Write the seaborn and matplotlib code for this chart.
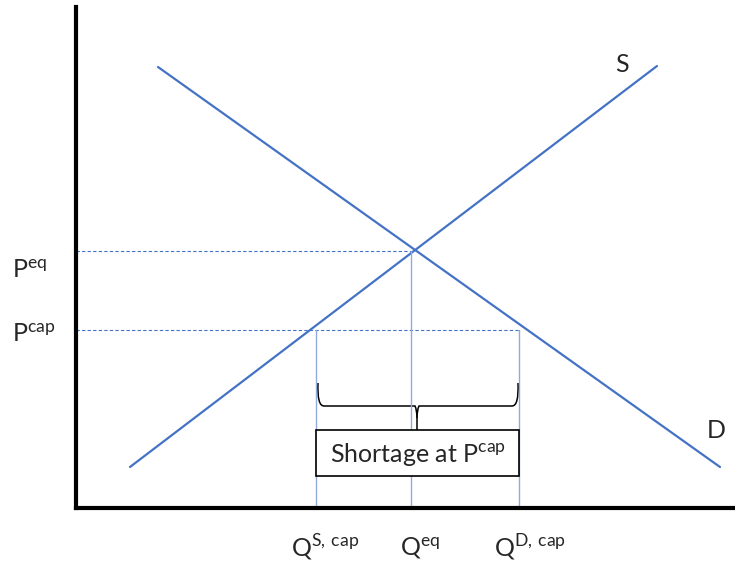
import numpy as np
import pandas as pd
import matplotlib
matplotlib.use('Agg')
import matplotlib.pyplot as plt
import seaborn as sns
from matplotlib.path import Path
from matplotlib.patches import PathPatch, Rectangle

# curve end points (quantity, price) in chart units
supply_q = [54, 581]
supply_p = [41, 442]
demand_q = [82, 644]
demand_p = [441, 41]

# key levels
q_eq, p_eq = 335, 257
p_cap = 178
qs_cap, qd_cap = 240, 443

curve_labels = ['S', 'D']
price_labels = [r'P$^{\mathrm{eq}}$', r'P$^{\mathrm{cap}}$']
qty_labels = [r'Q$^{\mathrm{S,}\,\mathrm{cap}}$', r'Q$^{\mathrm{eq}}$', r'Q$^{\mathrm{D,}\,\mathrm{cap}}$']
box_label = r'Shortage at P$^{\mathrm{cap}}$'

sns.set_style('white')
plt.rcParams['font.family'] = ['Lato', 'DejaVu Sans']
plt.rcParams['mathtext.fontset'] = 'custom'
plt.rcParams['mathtext.rm'] = 'Lato'

blue = '#4472C4'
fs = 18

df = pd.DataFrame({
    'q': supply_q + demand_q,
    'p': supply_p + demand_p,
    'curve': ['S', 'S', 'D', 'D'],
})

fig = plt.figure(figsize=(7.35, 5.67), dpi=100)
ax = fig.add_axes([76/735, 59/567, 659/735, 501/567])

sns.lineplot(data=df, x='q', y='p', units='curve', estimator=None, color=blue,
             linewidth=1.6, ax=ax, legend=False)

ax.set_xlim(0, 659)
ax.set_ylim(0, 501)

# dashed price lines
ax.plot([0, q_eq], [p_eq, p_eq], ls=(0, (3, 2)), lw=0.8, color=blue)
ax.plot([0, qd_cap], [p_cap, p_cap], ls=(0, (3, 2)), lw=0.8, color=blue)

# vertical quantity lines
vline_col = '#8FAADC'
ax.plot([qs_cap, qs_cap], [0, p_cap], lw=1.0, color=vline_col)
ax.plot([q_eq, q_eq], [0, p_eq], lw=1.0, color=vline_col)
ax.plot([qd_cap, qd_cap], [0, p_cap], lw=1.0, color=vline_col)

# curly brace
xl, xr, xm = qs_cap + 2, qd_cap - 1, q_eq + 6
ytop, ymid, ytip = 125, 102, 78
verts = [
    (xl, ytop), (xl - 1, ymid), (xl + 6, ymid),
    (xm - 8, ymid),
    (xm - 2, ymid), (xm, ymid - 4), (xm, ymid - 12),
    (xm, ytip),
]
codes = [Path.MOVETO, Path.CURVE3, Path.CURVE3,
         Path.LINETO,
         Path.LINETO, Path.CURVE3, Path.CURVE3,
         Path.LINETO]
ax.add_patch(PathPatch(Path(verts, codes), fill=False, lw=1.1, color='black'))
verts2 = [
    (xr, ytop), (xr + 1, ymid), (xr - 6, ymid),
    (xm + 8, ymid),
    (xm + 2, ymid), (xm, ymid - 4), (xm, ymid - 12),
]
codes2 = [Path.MOVETO, Path.CURVE3, Path.CURVE3,
          Path.LINETO,
          Path.LINETO, Path.CURVE3, Path.CURVE3]
ax.add_patch(PathPatch(Path(verts2, codes2), fill=False, lw=1.1, color='black'))

# shortage box
ax.add_patch(Rectangle((qs_cap, 32), qd_cap - qs_cap, 46, facecolor='white',
                       edgecolor='black', lw=1.2, zorder=3))
ax.text((qs_cap + qd_cap) / 2, 54, box_label, ha='center', va='center',
        fontsize=fs, zorder=4)

# curve labels
ax.text(546, 444, curve_labels[0], ha='center', va='center', fontsize=fs)
ax.text(640, 78, curve_labels[1], ha='center', va='center', fontsize=fs)

# price labels
ax.text(-64, p_eq - 19, price_labels[0], ha='left', va='center', fontsize=fs, clip_on=False)
ax.text(-64, p_cap - 5, price_labels[1], ha='left', va='center', fontsize=fs, clip_on=False)

# quantity labels
for qx, lab in zip([qs_cap + 9, q_eq + 9, qd_cap + 11], qty_labels):
    ax.text(qx, -40, lab, ha='center', va='center', fontsize=fs, clip_on=False)

ax.set_xticks([])
ax.set_yticks([])
ax.set_xlabel('')
ax.set_ylabel('')
sns.despine(ax=ax)
for s in ['left', 'bottom']:
    ax.spines[s].set_linewidth(3)
    ax.spines[s].set_color('black')

fig.savefig('out.png', dpi=100)
